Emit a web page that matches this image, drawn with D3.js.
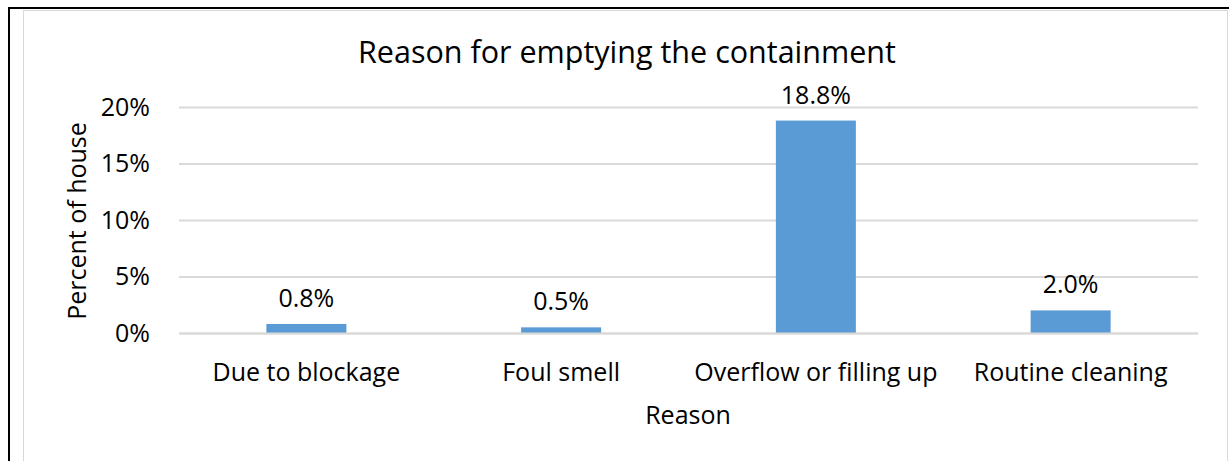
<!DOCTYPE html>
<html><head><meta charset="utf-8">
<script src="https://cdn.jsdelivr.net/npm/d3@7"></script>
<style>body{margin:0;background:#fff}svg{display:block}text{font-family:"Open Sans",sans-serif;fill:#000}</style>
</head><body>
<svg id="c" width="1229" height="461"></svg>
<script>
const categories = ["Due to blockage","Foul smell","Overflow or filling up","Routine cleaning"];
const values = [0.8, 0.5, 18.8, 2.0];
const valueLabels = ["0.8%","0.5%","18.8%","2.0%"];
const yTicks = [0,5,10,15,20];
const title = "Reason for emptying the containment";
const xTitle = "Reason";
const yTitle = "Percent of house";

const svg = d3.select("#c");
svg.append("path").attr("d","M9,461 V8 H1229").attr("fill","none").attr("stroke","#000").attr("stroke-width",2);
svg.append("rect").attr("x",23.5).attr("y",10.5).attr("width",1204).attr("height",460).attr("fill","#fff").attr("stroke","#d9d9d9").attr("stroke-width",1);

const x = d3.scaleBand().domain(categories).range([179,1198]).paddingInner(0.686).paddingOuter(0.343);
const y = d3.scaleLinear().domain([0,20]).range([333,107]);

const yAxis = svg.append("g").attr("transform","translate(179,0)")
  .call(d3.axisLeft(y).tickValues(yTicks).tickFormat(d=>d+"%").tickSize(-(1198-179)).tickPadding(29));
yAxis.select(".domain").remove();
yAxis.selectAll("line").attr("stroke","#d9d9d9").attr("stroke-width",2);
yAxis.selectAll("text").attr("font-size",25).attr("font-family","Open Sans").attr("fill","#000");

svg.append("g").selectAll("rect").data(values).join("rect")
  .attr("x",(d,i)=>x(categories[i])).attr("width",x.bandwidth())
  .attr("y",d=>y(d)).attr("height",d=>y(0)-y(d)).attr("fill","#5b9bd5");

svg.append("g").selectAll("text").data(values).join("text")
  .attr("x",(d,i)=>x(categories[i])+x.bandwidth()/2).attr("y",d=>y(d)-17)
  .attr("text-anchor","middle").attr("font-size",25).text((d,i)=>valueLabels[i]);

const xAxis = svg.append("g").attr("transform","translate(0,333)")
  .call(d3.axisBottom(x).tickSize(0));
xAxis.select(".domain").attr("stroke","#d9d9d9").attr("stroke-width",2);
xAxis.selectAll("text").attr("font-size",25).attr("font-family","Open Sans").attr("fill","#000").attr("dy",null).attr("y",48);

svg.append("text").attr("x",627).attr("y",63).attr("text-anchor","middle").attr("font-size",30.5).text(title);
svg.append("text").attr("x",688).attr("y",424).attr("text-anchor","middle").attr("font-size",25).text(xTitle);
svg.append("text").attr("transform","translate(86,221) rotate(-90)").attr("text-anchor","middle").attr("font-size",25).text(yTitle);
</script>
</body></html>
